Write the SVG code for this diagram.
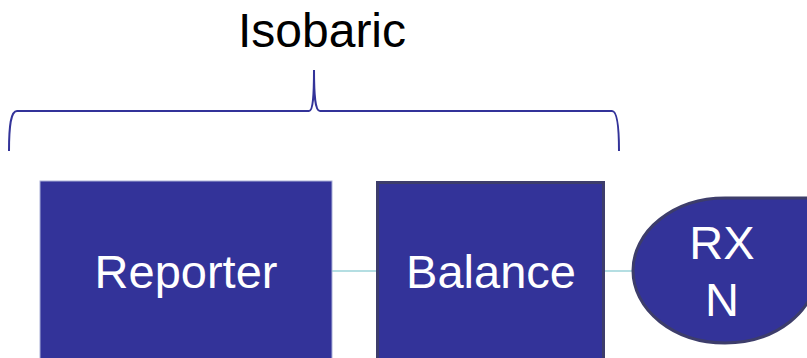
<svg xmlns="http://www.w3.org/2000/svg" width="807" height="358" viewBox="0 0 807 358">
<style>
.lbl{font-family:"Liberation Sans",Arial,sans-serif;font-size:47px;fill:#ffffff;text-anchor:middle}
.title{font-family:"Liberation Sans",Arial,sans-serif;font-size:48px;fill:#000000;text-anchor:middle}
.node{fill:#333399}
.edge{stroke:#b4dee2;stroke-width:2;fill:none}
</style>
<rect width="807" height="358" fill="#ffffff"/>
<g id="brace">
<path d="M9,151 C9,125 11,111 17,111 L309,111 C313,111 314,95 314,70 C314,95 315,111 320,111 L612,111 C617,111 619,125 619,151" fill="none" stroke="#333399" stroke-width="2"/>
<text class="title" x="322" y="47">Isobaric</text>
</g>
<g id="connectors">
<line class="edge" x1="330" y1="271" x2="378" y2="271"/>
<line class="edge" x1="604" y1="271" x2="635" y2="271"/>
</g>
<g id="reporter">
<rect class="node" x="40" y="181" width="292" height="180" stroke="#aab0d8" stroke-width="1"/>
<text class="lbl" x="186" y="288">Reporter</text>
</g>
<g id="balance">
<rect class="node" x="377.5" y="182.5" width="226" height="180" stroke="#3d3d6b" stroke-width="3"/>
<text class="lbl" x="491" y="288">Balance</text>
</g>
<g id="rxn">
<path class="node" d="M725,198 A92 72.5 0 1 0 817,270.5 L817,198 Z" stroke="#3d3d6b" stroke-width="3"/>
<text class="lbl" x="722" y="259">RX</text>
<text class="lbl" x="722" y="316">N</text>
</g>
</svg>
